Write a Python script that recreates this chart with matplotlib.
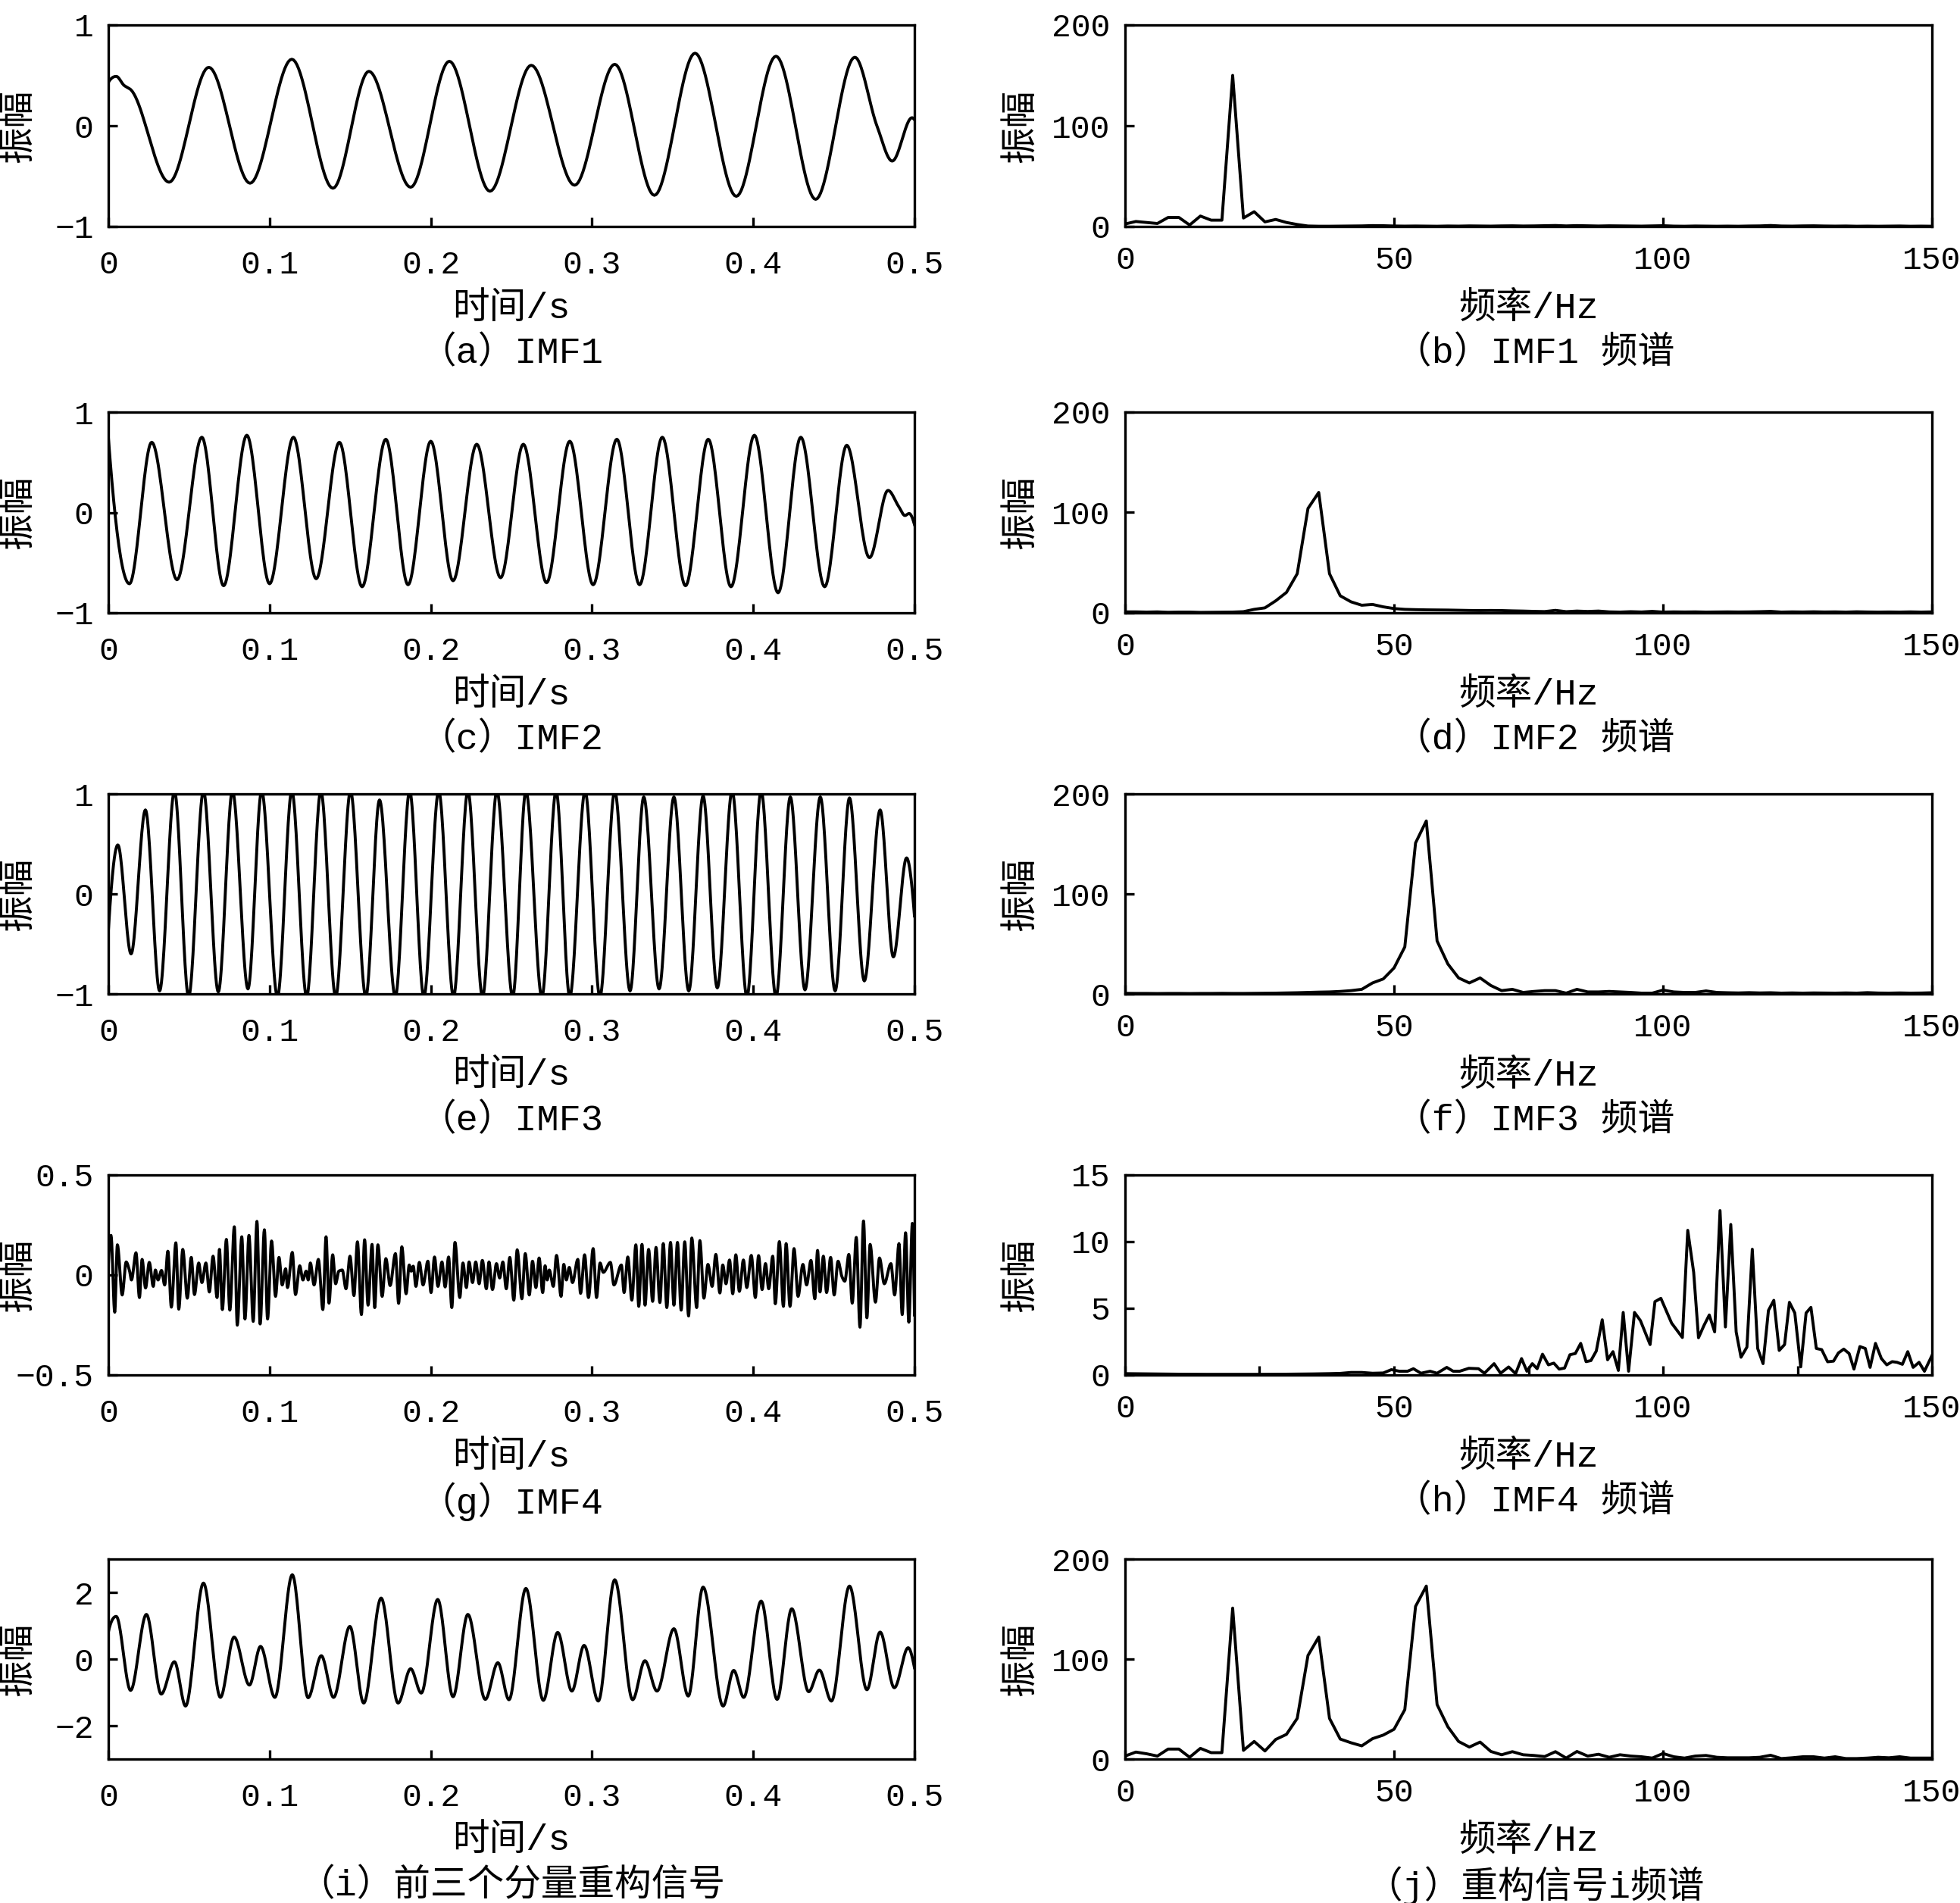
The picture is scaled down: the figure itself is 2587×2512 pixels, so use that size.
import numpy as np
import matplotlib
matplotlib.use("Agg")
import matplotlib.pyplot as plt

plt.rcParams['font.family'] = ['Liberation Mono', 'Noto Sans CJK SC', 'DejaVu Sans']
plt.rcParams['axes.unicode_minus'] = True

# ---- time-domain components: (t [s], amplitude) at the extrema ----
imf1_pts = [(0, 0.43), (0.0049, 0.49), (0.0098, 0.40), (0.0138, 0.36), (0.0377, -0.56),
            (0.0623, 0.58), (0.0879, -0.57), (0.1138, 0.66), (0.1393, -0.62), (0.1616, 0.54),
            (0.1875, -0.61), (0.2115, 0.64), (0.2367, -0.65), (0.2623, 0.60), (0.2892, -0.59),
            (0.3141, 0.61), (0.3387, -0.69), (0.3639, 0.72), (0.3895, -0.70), (0.4141, 0.69),
            (0.4387, -0.73), (0.4630, 0.68), (0.4767, 0.0), (0.4862, -0.35), (0.4985, 0.08),
            (0.5, 0.06)]

imf2_pts = [(0, 0.75), (0.0131, -0.71), (0.0269, 0.70), (0.0426, -0.67), (0.0580, 0.75),
            (0.0715, -0.73), (0.0859, 0.77), (0.1000, -0.71), (0.1148, 0.75), (0.1289, -0.66),
            (0.1433, 0.70), (0.1574, -0.74), (0.1721, 0.73), (0.1859, -0.72), (0.2000, 0.71),
            (0.2138, -0.68), (0.2285, 0.68), (0.2433, -0.65), (0.2574, 0.68), (0.2718, -0.70),
            (0.2862, 0.71), (0.3007, -0.72), (0.3154, 0.73), (0.3295, -0.72), (0.3436, 0.75),
            (0.3580, -0.73), (0.3721, 0.73), (0.3862, -0.74), (0.4007, 0.77), (0.4154, -0.80),
            (0.4295, 0.75), (0.4443, -0.74), (0.4580, 0.67), (0.4721, -0.45), (0.4836, 0.22),
            (0.4902, 0.06), (0.4941, -0.03), (0.4967, -0.01), (0.5, -0.12)]

imf3_pts = [(0, -0.37), (0.0059, 0.49), (0.0141, -0.60), (0.0230, 0.84), (0.0318, -0.97),
            (0.0410, 1.03), (0.0498, -1.03), (0.0590, 1.03), (0.0682, -0.98), (0.0770, 1.03),
            (0.0866, -0.95), (0.0951, 1.03), (0.1049, -1.03), (0.1138, 1.03), (0.1230, -1.03),
            (0.1318, 1.03), (0.1410, -1.03), (0.1502, 1.03), (0.1597, -1.03), (0.1682, 0.94),
            (0.1780, -1.03), (0.1869, 1.03), (0.1957, -1.03), (0.2049, 1.03), (0.2141, -1.03),
            (0.2230, 1.03), (0.2321, -1.03), (0.2410, 1.03), (0.2508, -1.03), (0.2590, 1.03),
            (0.2689, -1.03), (0.2777, 1.03), (0.2862, -1.03), (0.2957, 1.03), (0.3049, -1.03),
            (0.3141, 1.03), (0.3236, -0.97), (0.3321, 0.97), (0.3416, -0.95), (0.3508, 0.97),
            (0.3600, -0.97), (0.3689, 0.98), (0.3777, -0.94), (0.3869, 1.03), (0.3961, -1.03),
            (0.4049, 1.03), (0.4141, -1.03), (0.4230, 0.97), (0.4321, -0.96), (0.4416, 0.97),
            (0.4508, -0.97), (0.4597, 0.96), (0.4689, -0.87), (0.4787, 0.84), (0.4869, -0.63),
            (0.4951, 0.36), (0.5, -0.22)]

imf4_pts = [(0, 0.05), (0.00165, 0.198), (0.00396, -0.186), (0.00561, 0.151), (0.00857, -0.100),
            (0.01105, 0.065), (0.01319, 0.019), (0.01434, -0.025), (0.01715, 0.111), (0.01929, -0.113),
            (0.02094, 0.078), (0.02308, -0.065), (0.02539, 0.063), (0.02787, -0.057), (0.02918, 0.025),
            (0.03083, -0.025), (0.03298, 0.023), (0.03495, -0.050), (0.03693, 0.119), (0.03908, -0.161),
            (0.04188, 0.161), (0.04369, -0.171), (0.04617, 0.128), (0.04897, -0.116), (0.05144, 0.088),
            (0.05342, -0.098), (0.05606, 0.060), (0.05804, -0.038), (0.06051, 0.060), (0.06265, -0.085),
            (0.06496, 0.094), (0.06744, -0.113), (0.06892, 0.128), (0.07073, -0.173), (0.07321, 0.178),
            (0.07535, -0.176), (0.07815, 0.241), (0.07997, -0.251), (0.08277, 0.191), (0.08475, -0.220),
            (0.08722, 0.198), (0.08986, -0.232), (0.09217, 0.268), (0.09415, -0.245), (0.09678, 0.226),
            (0.09876, -0.220), (0.10124, 0.170), (0.10371, -0.107), (0.10585, 0.088), (0.10783, -0.050),
            (0.10997, 0.031), (0.11113, -0.063), (0.11410, 0.113), (0.11608, -0.098), (0.11871, 0.046),
            (0.12069, -0.025), (0.12267, 0.019), (0.12399, -0.025), (0.12531, 0.060), (0.12762, -0.050),
            (0.13026, 0.078), (0.13306, -0.173), (0.13504, 0.191), (0.13685, -0.141), (0.13916, 0.101),
            (0.14097, -0.044), (0.14295, 0.019), (0.14510, 0.025), (0.14740, -0.069), (0.14988, 0.094),
            (0.15235, -0.103), (0.15450, 0.166), (0.15697, -0.198), (0.15895, 0.176), (0.16109, -0.151),
            (0.16356, 0.153), (0.16521, -0.163), (0.16719, 0.151), (0.16983, -0.107), (0.17214, 0.082),
            (0.17477, -0.053), (0.17807, 0.107), (0.18005, -0.142), (0.18203, 0.141), (0.18467, -0.094),
            (0.18664, 0.050), (0.18780, 0.019), (0.18912, 0.044), (0.19077, -0.057), (0.19291, 0.063),
            (0.19522, -0.050), (0.19819, 0.069), (0.20016, -0.088), (0.20231, 0.090), (0.20445, -0.057),
            (0.20693, 0.065), (0.20891, -0.060), (0.21105, 0.090), (0.21303, -0.163), (0.21500, 0.163),
            (0.21797, -0.113), (0.21995, 0.060), (0.22209, -0.063), (0.22374, 0.065), (0.22589, -0.038),
            (0.22787, 0.065), (0.23001, -0.044), (0.23199, 0.073), (0.23446, -0.069), (0.23611, 0.065),
            (0.23826, -0.073), (0.24073, 0.057), (0.24271, -0.015), (0.24469, 0.065), (0.24683, -0.069),
            (0.2490, 0.088), (0.2515, -0.126), (0.2536, 0.126), (0.2565, -0.119), (0.2586, 0.107),
            (0.2611, -0.100), (0.2631, 0.069), (0.2652, -0.063), (0.2672, 0.085), (0.2694, -0.088),
            (0.2709, 0.046), (0.2722, -0.025), (0.2735, 0.025), (0.2760, -0.057), (0.2780, 0.098),
            (0.2808, -0.107), (0.2825, 0.053), (0.2841, -0.025), (0.2859, 0.038), (0.2879, -0.038),
            (0.2912, 0.078), (0.2929, -0.092), (0.2954, 0.101), (0.2978, -0.113), (0.3007, 0.132),
            (0.3028, -0.113), (0.3050, 0.060), (0.3070, 0.013), (0.3114, 0.063), (0.3136, -0.050),
            (0.3182, 0.050), (0.3199, -0.088), (0.3222, 0.090), (0.3247, -0.126), (0.3272, 0.151),
            (0.3290, -0.157), (0.3310, 0.153), (0.3329, -0.151), (0.3351, 0.128), (0.3376, -0.132),
            (0.3397, 0.138), (0.3421, -0.138), (0.3442, 0.157), (0.3464, -0.163), (0.3487, 0.163),
            (0.3508, -0.151), (0.3530, 0.163), (0.3553, -0.176), (0.3575, 0.166), (0.3599, -0.205),
            (0.3619, 0.185), (0.3649, -0.163), (0.3669, 0.172), (0.3694, -0.116), (0.3719, 0.053),
            (0.3745, -0.057), (0.3768, 0.103), (0.3793, -0.090), (0.3811, 0.050), (0.3831, -0.044),
            (0.3853, 0.075), (0.3873, -0.094), (0.3892, 0.101), (0.3914, -0.082), (0.3939, 0.075),
            (0.3960, -0.063), (0.3988, 0.098), (0.4013, -0.113), (0.4033, 0.097), (0.4055, -0.073),
            (0.4076, 0.057), (0.4096, -0.069), (0.4121, 0.094), (0.4137, -0.144), (0.4162, 0.167),
            (0.4187, -0.157), (0.4204, 0.157), (0.4228, -0.157), (0.4253, 0.132), (0.4278, -0.107),
            (0.4308, 0.053), (0.4331, -0.050), (0.4358, 0.073), (0.4382, -0.119), (0.4399, 0.123),
            (0.4414, -0.085), (0.4435, 0.094), (0.4455, -0.088), (0.4480, 0.088), (0.4502, -0.100),
            (0.4526, 0.069), (0.4551, -0.010), (0.4568, -0.031), (0.4593, 0.103), (0.4614, -0.141),
            (0.4639, 0.188), (0.4662, -0.261), (0.4684, 0.270), (0.4705, -0.214), (0.4725, 0.153),
            (0.4758, -0.136), (0.4783, 0.085), (0.4813, -0.044), (0.4854, 0.057), (0.4877, -0.100),
            (0.4904, 0.157), (0.4924, -0.198), (0.4945, 0.211), (0.4965, -0.236), (0.4987, 0.258),
            (0.5, -0.20)]

recon_pts = [(0, 0.81), (0.0049, 1.28), (0.0138, -0.94), (0.0236, 1.34), (0.0328, -1.05),
             (0.0410, -0.08), (0.0479, -1.41), (0.0590, 2.28), (0.0695, -1.15), (0.0780, 0.66),
             (0.0875, -0.78), (0.0944, 0.38), (0.1033, -1.15), (0.1141, 2.53), (0.1239, -1.16),
             (0.1321, 0.10), (0.1397, -1.15), (0.1498, 0.98), (0.1584, -1.32), (0.1692, 1.83),
             (0.1797, -1.32), (0.1875, -0.29), (0.1941, -1.02), (0.2043, 1.79), (0.2138, -1.13),
             (0.2230, 1.34), (0.2338, -1.21), (0.2416, -0.11), (0.2485, -1.22), (0.2590, 2.12),
             (0.2698, -1.24), (0.2787, 0.80), (0.2875, -0.96), (0.2951, 0.41), (0.3039, -1.26),
             (0.3141, 2.38), (0.3252, -1.22), (0.3328, -0.05), (0.3403, -0.96), (0.3508, 0.91),
             (0.3597, -1.11), (0.3689, 2.16), (0.3813, -1.41), (0.3879, -0.34), (0.3941, -1.15),
             (0.4049, 1.74), (0.4148, -1.21), (0.4239, 1.51), (0.4344, -0.98), (0.4410, -0.33),
             (0.4485, -1.26), (0.4597, 2.19), (0.4705, -0.92), (0.4787, 0.81), (0.4875, -0.86),
             (0.4961, 0.34), (0.5, -0.26)]

# ---- amplitude spectra (2 Hz bins from 0 Hz) ----
spec_imf1 = [2.5, 5, 4, 3, 9, 9, 1.5, 10.4, 6.3, 6.3, 150, 8.4, 14.7, 4.6, 7, 4, 2, 0.5,
             0.3, 0.3, 0.4, 0.5, 0.6, 0.9, 0.8, 0.5, 0.4, 0.5, 0.4, 0.3, 0.5, 0.4, 0.6, 0.5,
             0.4, 0.6, 0.7, 0.5, 0.6, 0.8, 1.0, 0.6, 0.9, 0.7, 0.5, 0.7, 0.6, 0.5, 0.4, 0.6,
             0.8, 0.4, 0.3, 0.5, 0.4, 0.3, 0.4, 0.3, 0.5, 0.6, 1.0, 0.5, 0.4, 0.6, 0.7, 0.5,
             0.4, 0.5, 0.3, 0.4, 0.3, 0.4, 0.5, 0.3, 0.4, 0.3]
spec_imf2 = [1, 1, 0.8, 1, 0.6, 0.8, 0.8, 0.5, 0.6, 0.7, 0.8, 1.2, 3.5, 5, 12, 20.4, 39, 104,
             120, 39, 17, 11, 7.6, 8.4, 6, 4.3, 3.5, 3.2, 3, 2.9, 2.8, 2.6, 2.4, 2.3, 2.4, 2.3,
             2.0, 1.8, 1.5, 1.3, 2.5, 1.2, 1.8, 1.4, 1.8, 1.0, 0.8, 1.2, 0.9, 1.5, 0.8, 1.0,
             0.9, 1.0, 0.8, 0.9, 1.0, 0.9, 1.0, 1.2, 1.5, 0.8, 1.0, 0.9, 1.1, 0.9, 1.0, 0.8,
             1.1, 0.9, 0.8, 0.9, 0.8, 1.0, 0.8, 1.0]
spec_imf3 = [0.6, 0.5, 0.5, 0.4, 0.5, 0.5, 0.4, 0.5, 0.5, 0.6, 0.5, 0.5, 0.6, 0.7, 0.8, 1.0,
             1.2, 1.5, 1.8, 2, 2.5, 3.3, 4.6, 11, 15, 26, 47, 151, 173, 53, 30, 16, 11, 16,
             8.4, 3.3, 4.6, 1.5, 2.5, 3.3, 3.3, 0.8, 4.6, 2, 2, 2.5, 2, 1.5, 0.8, 0.8, 3.8, 2,
             1.5, 1.5, 3, 1.5, 1.2, 1.0, 1.3, 1.0, 1.2, 0.8, 1.0, 0.8, 1.0, 0.9, 0.8, 1.0, 0.8,
             1.3, 0.9, 0.8, 1.0, 0.8, 0.9, 1.2]
spec_recon = [3, 7, 5.3, 3, 10, 10, 1.8, 10.7, 6.4, 6.4, 151, 8.7, 17.6, 8.1, 19.6, 24.7,
              40.7, 103.6, 122, 40.7, 20, 16.3, 13.2, 20.4, 24, 29.8, 49.4, 152.7, 173, 54.5,
              32.3, 17.6, 12, 17, 7.6, 4.3, 7.4, 4.3, 3.6, 2.5, 7.4, 1, 7.6, 3, 4.8, 1.8, 4.3,
              3, 2.3, 1, 5.6, 2.3, 1, 3, 3.6, 1.8, 1.3, 1.3, 1.3, 1.8, 3.8, 0.5, 1.3, 2.3, 2.3,
              1.0, 2.3, 0.5, 0.5, 1.0, 1.8, 1.3, 2.3, 1.0, 1.0, 1.0]

# IMF4 spectrum read at irregular frequencies
imf4_freq = [0, 5, 10, 15, 20, 25, 30, 35, 38, 40, 42, 44, 46, 48, 49.5, 51, 52.5, 53.6, 55,
             56.7, 58, 59.8, 61, 62.2, 63.9, 65.7, 66.8, 68.6, 69.8, 71.3, 72.6, 73.7, 74.7,
             75.7, 76.6, 77.6, 78.7, 79.7, 80.7, 81.7, 82.7, 83.7, 84.7, 85.7, 86.6, 87.6, 88.7,
             89.7, 90.7, 91.7, 92.6, 93.6, 94.7, 95.8, 97.6, 98.5, 99.6, 101.6, 103.6, 104.6,
             105.7, 106.6, 107.6, 108.6, 109.6, 110.6, 111.6, 112.6, 113.6, 114.5, 115.6, 116.6,
             117.6, 118.6, 119.6, 120.6, 121.6, 122.6, 123.5, 124.5, 125.6, 126.6, 127.5, 128.5,
             129.5, 130.6, 131.7, 132.6, 133.6, 134.6, 135.5, 136.6, 137.6, 138.5, 139.5, 140.6,
             141.6, 142.6, 143.5, 144.5, 145.5, 146.5, 147.6, 148.6, 150]
imf4_amp = [0.1, 0.08, 0.06, 0.05, 0.05, 0.05, 0.06, 0.08, 0.1, 0.12, 0.19, 0.19, 0.13, 0.15,
            0.4, 0.28, 0.28, 0.47, 0.13, 0.28, 0.13, 0.57, 0.28, 0.28, 0.5, 0.47, 0.13, 0.85,
            0.13, 0.6, 0.1, 1.23, 0.28, 0.85, 0.47, 1.56, 0.76, 0.89, 0.44, 0.52, 1.52, 1.61,
            2.37, 1.0, 1.08, 1.8, 4.14, 1.14, 1.75, 0.34, 4.69, 0.28, 4.69, 4.08, 2.28, 5.5,
            5.75, 3.89, 2.81, 10.85, 7.7, 2.79, 3.7, 4.5, 3.23, 12.33, 3.6, 11.29, 3.23, 1.33,
            2.09, 9.43, 1.99, 0.85, 4.84, 5.6, 1.84, 2.28, 5.45, 4.65, 0.61, 4.65, 5.07, 1.99,
            1.9, 0.99, 1.04, 1.65, 1.94, 1.61, 0.44, 2.13, 1.99, 0.57, 2.37, 1.23, 0.76, 1.0,
            0.95, 0.8, 1.75, 0.57, 0.95, 0.28, 1.46]

left_captions = ['（a）IMF1', '（c）IMF2', '（e）IMF3', '（g）IMF4', '（i）前三个分量重构信号']
right_captions = ['（b）IMF1 频谱', '（d）IMF2 频谱', '（f）IMF3 频谱', '（h）IMF4 频谱', '（j）重构信号i频谱']
time_ticks = [0, 0.1, 0.2, 0.3, 0.4, 0.5]
time_ticklabels = ['0', '0.1', '0.2', '0.3', '0.4', '0.5']
freq_ticks = [0, 50, 100, 150]


def pchip_slopes(x, y):
    h = np.diff(x)
    d = np.diff(y) / h
    m = np.zeros_like(y)
    for k in range(1, len(y) - 1):
        if d[k - 1] * d[k] > 0:
            w1 = 2 * h[k] + h[k - 1]
            w2 = h[k] + 2 * h[k - 1]
            m[k] = (w1 + w2) / (w1 / d[k - 1] + w2 / d[k])

    def end(h0, h1, d0, d1):
        s = ((2 * h0 + h1) * d0 - h0 * d1) / (h0 + h1)
        if np.sign(s) != np.sign(d0):
            s = 0.0
        elif np.sign(d0) != np.sign(d1) and abs(s) > abs(3 * d0):
            s = 3 * d0
        return s

    m[0] = end(h[0], h[1], d[0], d[1])
    m[-1] = end(h[-1], h[-2], d[-1], d[-2])
    return m


def smooth_line(pts, n=16):
    # monotone cubic through the read extrema, only to draw a smooth trace
    x = np.array([p[0] for p in pts], float)
    y = np.array([p[1] for p in pts], float)
    m = pchip_slopes(x, y)
    s = np.linspace(0, 1, n, endpoint=False)
    h00 = 2 * s**3 - 3 * s**2 + 1
    h10 = s**3 - 2 * s**2 + s
    h01 = -2 * s**3 + 3 * s**2
    h11 = s**3 - s**2
    xs, ys = [], []
    for k in range(len(x) - 1):
        h = x[k + 1] - x[k]
        xs.append(x[k] + s * h)
        ys.append(h00 * y[k] + h10 * h * m[k] + h01 * y[k + 1] + h11 * h * m[k + 1])
    xs.append([x[-1]])
    ys.append([y[-1]])
    return np.concatenate(xs), np.concatenate(ys)


W, H = 2587, 2512
fig = plt.figure(figsize=(W / 100, H / 100), dpi=100)

rows = [(33, 299), (544, 809), (1048, 1312), (1551, 1815), (2058, 2322)]
left_x = (143, 1207)
right_x = (1485, 2550)

LW = 2.4       # frame
CURVE_LW = 2.8
TICK_FS = 31
TEXT_FS = 35


def make_axes(xpix, row):
    x0, x1 = xpix
    top, bot = row
    ax = fig.add_axes([x0 / W, 1 - bot / H, (x1 - x0) / W, (bot - top) / H])
    for sp in ax.spines.values():
        sp.set_linewidth(LW)
    ax.tick_params(direction='in', length=8.5, width=LW, top=False, right=False,
                   labelsize=TICK_FS)
    ax.tick_params(axis='y', pad=14)
    return ax


def fig_text(xpx, ypx, s, **kw):
    fig.text(xpx / W, 1 - ypx / H, s, ha='center', va='center', fontsize=TEXT_FS, **kw)


left_series = [imf1_pts, imf2_pts, imf3_pts, imf4_pts, recon_pts]
left_ylims = [(-1, 1), (-1, 1), (-1, 1), (-0.5, 0.5), (-3, 3)]
left_yticks = [[-1, 0, 1], [-1, 0, 1], [-1, 0, 1], [-0.5, 0, 0.5], [-2, 0, 2]]
left_ylabels = [['−1', '0', '1'], ['−1', '0', '1'], ['−1', '0', '1'],
                ['−0.5', '0', '0.5'], ['−2', '0', '2']]

for i, row in enumerate(rows):
    ax = make_axes(left_x, row)
    t, v = smooth_line(left_series[i], n=24 if i != 3 else 10)
    ax.plot(t, v, color='black', lw=CURVE_LW)
    ax.set_xlim(0, 0.5)
    ax.set_ylim(*left_ylims[i])
    ax.set_xticks(time_ticks)
    ax.set_xticklabels(time_ticklabels)
    ax.set_yticks(left_yticks[i])
    ax.set_yticklabels(left_ylabels[i])
    ax.tick_params(axis='x', pad=22)
    top, bot = row
    fig_text(25, (top + bot) / 2, '振幅', rotation=90)
    fig_text((left_x[0] + left_x[1]) / 2, bot + 108, '时间/s')
    fig_text((left_x[0] + left_x[1]) / 2, bot + 167, left_captions[i])

right_series = [
    (np.arange(len(spec_imf1)) * 2, spec_imf1),
    (np.arange(len(spec_imf2)) * 2, spec_imf2),
    (np.arange(len(spec_imf3)) * 2, spec_imf3),
    (imf4_freq, imf4_amp),
    (np.arange(len(spec_recon)) * 2, spec_recon),
]
right_ylims = [(0, 200), (0, 200), (0, 200), (0, 15), (0, 200)]
right_yticks = [[0, 100, 200], [0, 100, 200], [0, 100, 200], [0, 5, 10, 15], [0, 100, 200]]

for i, row in enumerate(rows):
    ax = make_axes(right_x, row)
    f, a = right_series[i]
    ax.plot(f, a, color='black', lw=CURVE_LW, clip_on=True)
    ax.set_xlim(0, 150)
    ax.set_ylim(*right_ylims[i])
    ax.set_xticks(freq_ticks)
    ax.set_yticks(right_yticks[i])
    if i == 3:
        ax.set_xticks([25, 75, 125], minor=True)
        ax.tick_params(which='minor', direction='in', length=8.5, width=LW, top=False,
                       right=False)
    ax.tick_params(axis='x', pad=18)
    top, bot = row
    fig_text(1348, (top + bot) / 2, '振幅', rotation=90)
    fig_text((right_x[0] + right_x[1]) / 2, bot + 108, '频率/Hz')
    fig_text((right_x[0] + right_x[1]) / 2 + 8, bot + 167, right_captions[i])

fig.savefig('out.png', dpi=100, facecolor='white')
